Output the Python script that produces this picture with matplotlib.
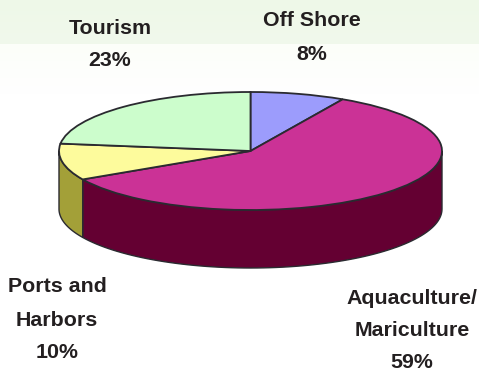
import numpy as np
import matplotlib
matplotlib.use("Agg")
import matplotlib.pyplot as plt

plt.rcParams['font.family'] = ['Liberation Sans', 'DejaVu Sans']

sectors = ["Off Shore", "Aquaculture/\nMariculture", "Ports and\nHarbors", "Tourism"]
shares = [8, 59, 10, 23]
top_colors = ["#9c9cfc", "#cb3296", "#fdfb9c", "#ccfdcc"]
side_colors = ["#4e4e80", "#640032", "#a3a038", "#668066"]

W, H = 479, 371
# pie centre and radii in pixels, the y radius gives the tilted look
cx, cy, rx, ry = 250.5, 151, 191.5, 59
depth = 58 / ry
edge = "#2a2a30"

fig = plt.figure(figsize=(W / 100, H / 100), dpi=100, facecolor="white")

# page background, pale green band fading out downwards
bg = fig.add_axes([0, 0, 1, 1], zorder=0)
rows = np.ones((H, 1, 3))
for i in range(H):
    if i < 44:
        t = i / 44
        rows[i] = np.array([238, 248, 232]) * (1 - t) + np.array([241, 249, 236]) * t
    else:
        t = min((i - 44) / 50, 1)
        rows[i] = np.array([252, 254, 249]) * (1 - t) + np.array([255, 255, 255]) * t
bg.imshow(rows / 255, aspect="auto", extent=(0, 1, 0, 1))
bg.axis("off")

ax = fig.add_axes([0, 0, 1, 1], zorder=1)
ax.patch.set_alpha(0)
ax.pie(shares, colors=top_colors, startangle=90, counterclock=False, radius=1,
       wedgeprops=dict(edgecolor=edge, linewidth=1.3, zorder=3))
ax.set_aspect("auto")
ax.set_xlim(-cx / rx, (W - cx) / rx)
ax.set_ylim((cy - H) / ry, cy / ry)

# side wall: only the part of each slice on the front half of the rim shows
ends = np.cumsum(shares) / np.sum(shares) * 360
starts = np.concatenate([[0], ends[:-1]])
for a0, a1, col in zip(starts, ends, side_colors):
    lo, hi = max(a0, 90), min(a1, 270)
    if hi <= lo:
        continue
    th = np.radians(np.linspace(lo, hi, 80))
    x = np.sin(th)
    y = np.cos(th)
    ax.fill(np.r_[x, x[::-1]], np.r_[y, y[::-1] - depth], facecolor=col,
            edgecolor=edge, linewidth=1.0, zorder=2)

# labels
label_px = [(312, 21, 54), (412, 299, 330, 363), (57, 287, 320, 353), (110, 28, 61)]
for name, share, pos in zip(sectors, shares, label_px):
    lines = name.split("\n") + [f"{share}%"]
    for line, py in zip(lines, pos[1:]):
        fig.text(pos[0] / W, 1 - py / H, line, ha="center", va="center",
                 fontsize=15.4, fontweight="bold", color="#231f20", zorder=5)

fig.savefig("out.png", dpi=100)
